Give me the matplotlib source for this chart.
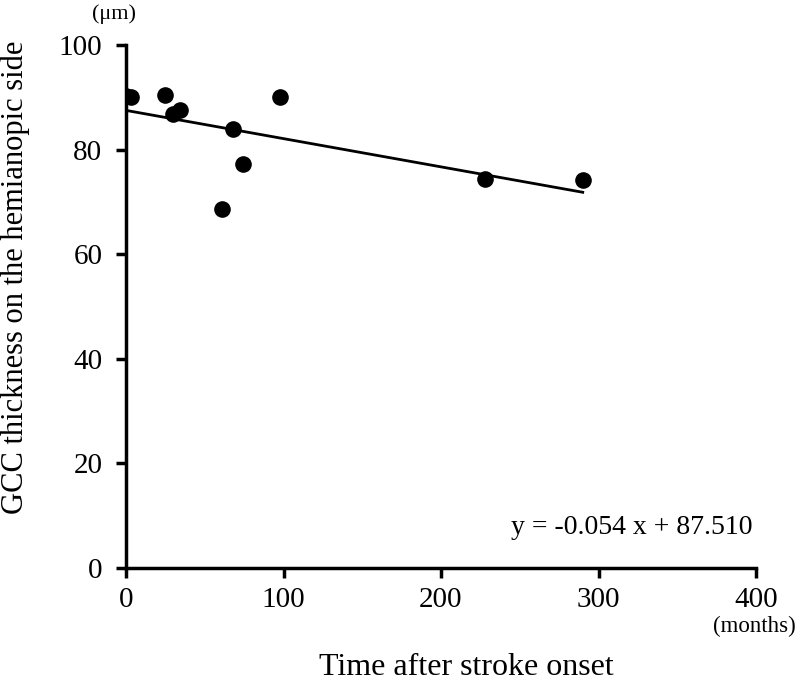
import numpy as np
import matplotlib.pyplot as plt

plt.rcParams['font.family'] = ['Liberation Serif', 'DejaVu Serif']

# months after stroke onset vs GCC thickness (um)
months = [0, 3, 25, 30, 34, 61, 68, 74, 98, 228, 290]
gcc = [90.2, 90.1, 90.4, 86.8, 87.6, 68.6, 83.9, 77.2, 90.1, 74.4, 74.2]

slope = -0.054
intercept = 87.510
fit_x = np.array([0, 290])

fig = plt.figure(figsize=(8, 6.83), dpi=100)
ax = fig.add_axes([0.1575, 0.1684, 0.7875, 0.7656])

ax.scatter(months, gcc, s=120, color='black', zorder=3)
ax.plot(fit_x, slope * fit_x + intercept, color='black', linewidth=2)

ax.set_xlim(0, 400)
ax.set_ylim(0, 100)
ax.set_xticks([0, 100, 200, 300, 400])
ax.set_yticks([0, 20, 40, 60, 80, 100])
for s in ['top', 'right']:
    ax.spines[s].set_visible(False)
for s in ['left', 'bottom']:
    ax.spines[s].set_linewidth(2.5)
ax.tick_params(direction='out', length=7, width=2.5, labelsize=21, pad=10)
ax.tick_params(axis='x', pad=7)

ax.set_xlabel('Time after stroke onset', fontsize=23)
ax.xaxis.set_label_coords(0.54, -0.163)
ax.set_ylabel('GCC thickness on the hemianopic side', fontsize=22)
ax.yaxis.set_label_coords(-0.152, 0.556)

ax.text(0.995, 0.078, 'y = -0.054 x + 87.510', transform=ax.transAxes,
        ha='right', va='center', fontsize=20)
fig.text(0.142, 0.979, '(\u03bcm)', ha='center', va='center', fontsize=16)
fig.text(0.943, 0.083, '(months)', ha='center', va='center', fontsize=16.5)

fig.savefig('out.png')
